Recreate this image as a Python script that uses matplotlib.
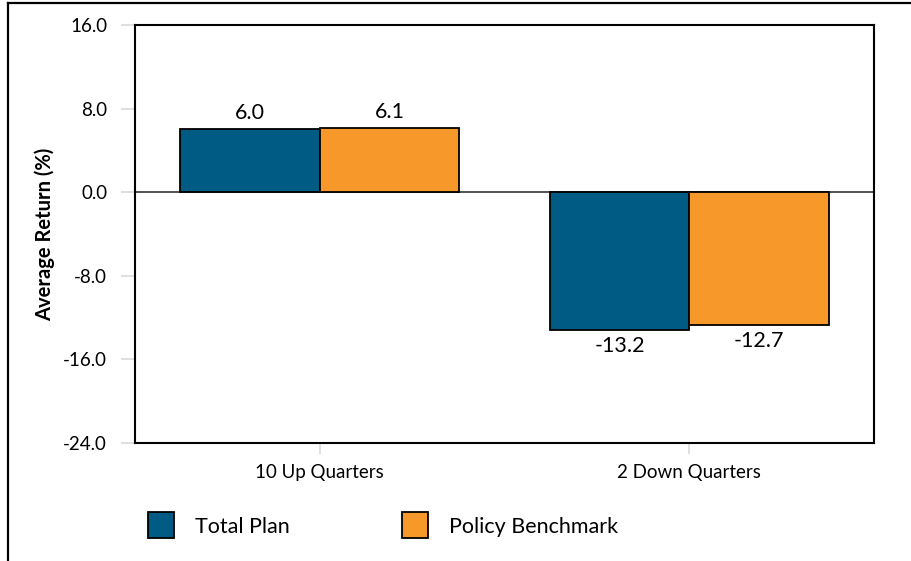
import matplotlib
matplotlib.use('Agg')
from matplotlib import pyplot as plt
from matplotlib.lines import Line2D
import numpy as np

categories = ['10 Up Quarters', '2 Down Quarters']
total_plan = [6.0, -13.2]
policy_benchmark = [6.1, -12.7]
series_names = ['Total Plan', 'Policy Benchmark']
yticks = [16.0, 8.0, 0.0, -8.0, -16.0, -24.0]

blue = '#005B84'
orange = '#F7992A'

plt.rcParams['font.family'] = ['Lato', 'DejaVu Sans']

fig = plt.figure(figsize=(9.11, 5.61), dpi=100)
ax = fig.add_axes([135 / 911, 1 - 443 / 561, 739 / 911, 418 / 561])

x = np.arange(len(categories))
w = 0.378
b1 = ax.bar(x - w / 2, total_plan, w, color=blue, edgecolor='black', linewidth=1.3,
            label=series_names[0], zorder=3)
b2 = ax.bar(x + w / 2, policy_benchmark, w, color=orange, edgecolor='black', linewidth=1.3,
            label=series_names[1], zorder=3)

for bars in (b1, b2):
    for r in bars:
        v = r.get_height()
        if v >= 0:
            ax.text(r.get_x() + r.get_width() / 2, v + 0.6, f'{v:.1f}',
                    ha='center', va='bottom', fontsize=15.5)
        else:
            ax.text(r.get_x() + r.get_width() / 2, v - 0.6, f'{v:.1f}',
                    ha='center', va='top', fontsize=15.5)

ax.axhline(0, color='#333333', linewidth=1.2, zorder=2)
ax.set_xlim(-0.5, 1.5)
ax.set_ylim(-24, 16)
ax.set_yticks(yticks)
ax.set_yticklabels([f'{t:.1f}' for t in yticks])
ax.set_xticks(x)
ax.set_xticklabels(categories)
ax.tick_params(axis='y', length=10, width=1.2, color='#D9D9D9', labelsize=13.5, pad=10)
ax.tick_params(axis='x', length=8, width=1.2, color='#D9D9D9', labelsize=13.5, pad=7)
for s in ax.spines.values():
    s.set_linewidth(1.5)
    s.set_color('black')

ax.set_ylabel('Average Return (%)', fontsize=14.5, fontweight='bold', labelpad=6)

handles = [Line2D([], [], marker='s', linestyle='none', markersize=19,
                  markerfacecolor=c, markeredgecolor='black', markeredgewidth=1.3)
           for c in (blue, orange)]
fig.legend(handles, series_names, loc='center left', bbox_to_anchor=(128 / 911, 1 - 527 / 561),
           ncol=2, frameon=False, fontsize=15.5, handlelength=1.3, handletextpad=0.9,
           columnspacing=5.2)

# outer frame (left and top edges visible)
fig.add_artist(Line2D([8 / 911, 8 / 911], [0, 1 - 3 / 561], transform=fig.transFigure,
                      color='black', linewidth=1.6))
fig.add_artist(Line2D([8 / 911, 1], [1 - 3 / 561, 1 - 3 / 561], transform=fig.transFigure,
                      color='black', linewidth=1.6))

plt.savefig('out.png', dpi=100)
